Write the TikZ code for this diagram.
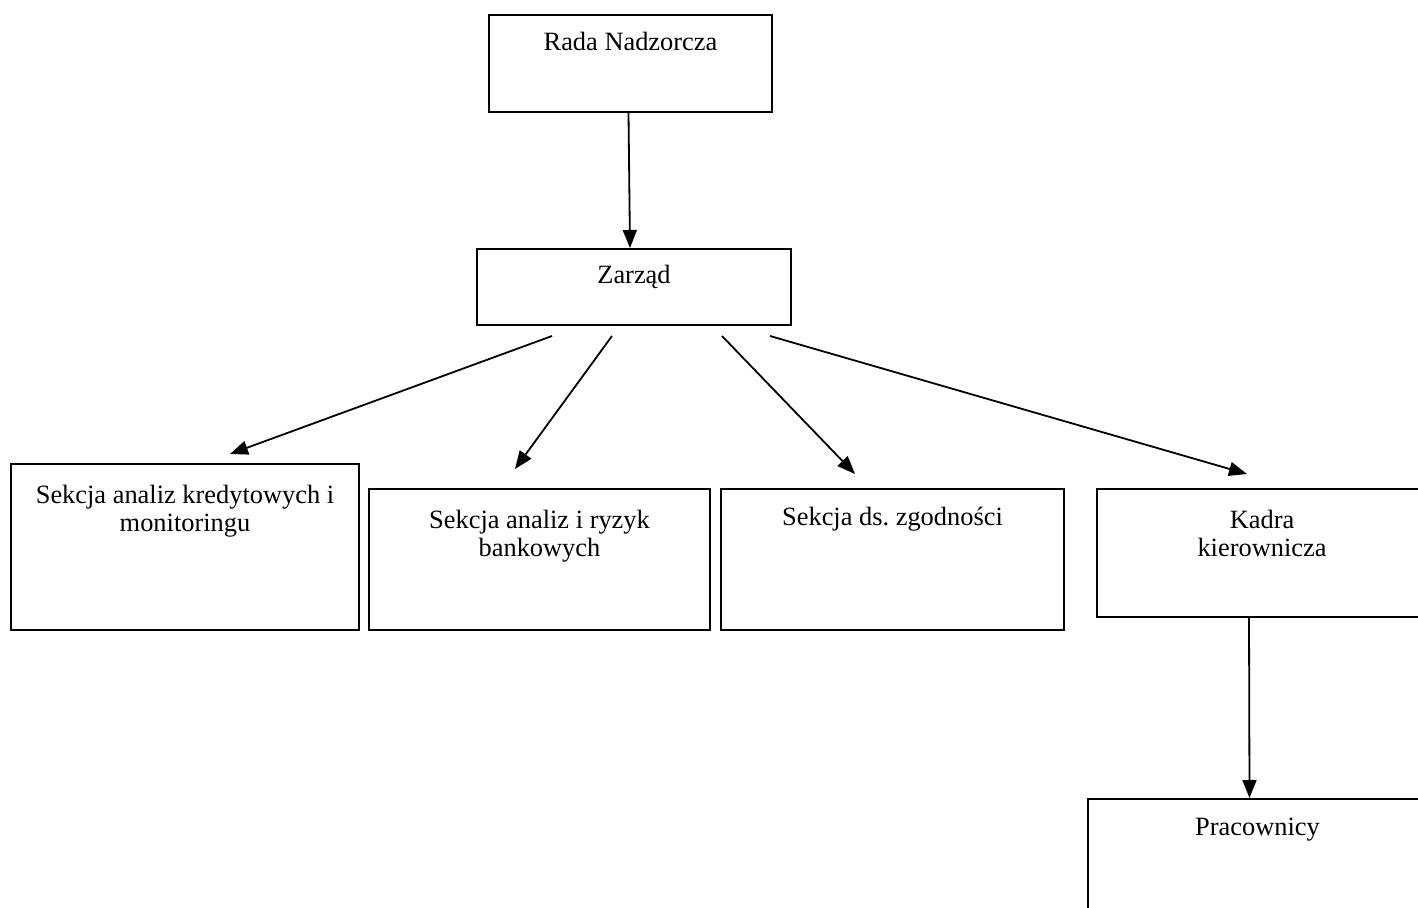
\documentclass[tikz,border=0pt]{standalone}
\usepackage{fontspec}
\setmainfont{Liberation Serif}
\usetikzlibrary{arrows.meta,calc}
\frenchspacing
\begin{document}
\begin{tikzpicture}[x=0.5pt,y=-0.5pt,
  box/.style={draw, line width=1pt, inner sep=0pt, rectangle},
  lbl/.style={font=\fontsize{13.2}{13.6}\selectfont, align=center, inner sep=0pt, anchor=base},
  conn/.style={line width=0.9pt, -{Triangle[length=9pt,width=7pt]}}]
\useasboundingbox (0,0) rectangle (1418,908);
\clip (0,0) rectangle (1418,908);
% boxes
\node[box, minimum width=141.5pt, minimum height=48.5pt] (rada) at (630.5,63.5) {};
\node[box, minimum width=157pt, minimum height=38pt] (zarzad) at (634,287) {};
\node[box, minimum width=174pt, minimum height=83pt] (s1) at (185,547) {};
\node[box, minimum width=170.5pt, minimum height=70.5pt] (s2) at (539.5,559.5) {};
\node[box, minimum width=171.5pt, minimum height=70.5pt] (s3) at (892.5,559.5) {};
\node[box, minimum width=165pt, minimum height=64pt] (kadra) at (1262,553) {};
\node[box, minimum width=169.5pt, minimum height=80.5pt] (prac) at (1257.5,879.5) {};
% labels
\node[lbl] (tRada) at ($(rada.north)+(0,37)$) {Rada Nadzorcza};
\node[lbl] (tZarzad) at ($(zarzad.north)+(0,36)$) {Zarząd};
\node[lbl] (tS1) at ($(s1.north)+(0,68)$) {Sekcja analiz kredytowych i\\monitoringu};
\node[lbl] (tS2) at ($(s2.north)+(0,68)$) {Sekcja analiz i ryzyk\\bankowych};
\node[lbl] (tS3) at ($(s3.north)+(0,37)$) {Sekcja ds. zgodności};
\node[lbl] (tKadra) at ($(kadra.north)+(0,68)$) {Kadra\\kierownicza};
\node[lbl] (tPrac) at ($(prac.north)+(0,37)$) {Pracownicy};
% connectors
\draw[conn] ($(rada.south)+(-2,0)$) -- ($(zarzad.north)+(-4,0)$);
\draw[conn] ($(zarzad.south)+(-82,10)$) -- ($(s1.north)+(45,-9)$);
\draw[conn] ($(zarzad.south)+(-22,10)$) -- ($(s2.north)+(-24.5,-19)$);
\draw[conn] ($(zarzad.south)+(88,10)$) -- ($(s3.north)+(-37.5,-14)$);
\draw[conn] ($(zarzad.south)+(136,10)$) -- ($(kadra.north)+(-15,-14)$);
\draw[conn] ($(kadra.south)+(-13,0)$) -- ($(prac.north)+(-8,0)$);
\end{tikzpicture}
\end{document}
